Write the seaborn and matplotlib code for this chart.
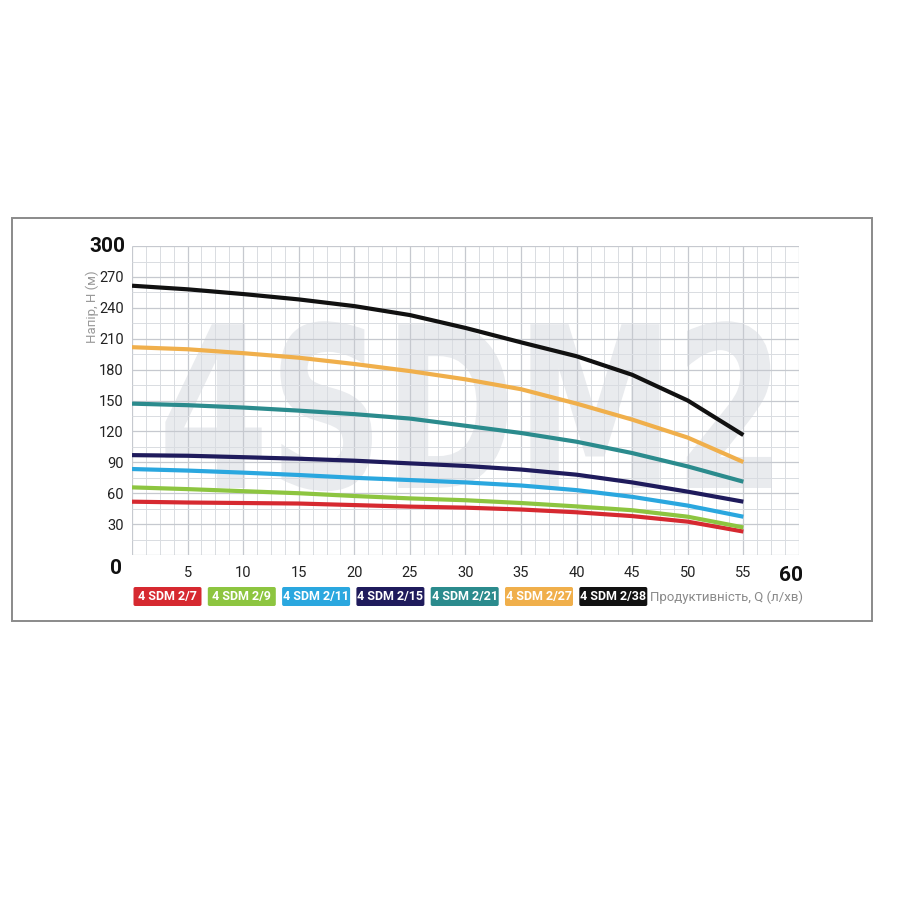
import numpy as np
import pandas as pd
import matplotlib
matplotlib.use("Agg")
import matplotlib.pyplot as plt
from matplotlib.patches import Rectangle, FancyBboxPatch, PathPatch
from matplotlib.textpath import TextPath
from matplotlib.font_manager import FontProperties
from matplotlib.transforms import Affine2D
import seaborn as sns

# ---- data ----
flow = [0, 5, 10, 15, 20, 25, 30, 35, 40, 45, 50, 55]
h_2_7 = [51.8, 51.0, 50.5, 50.0, 48.5, 47.0, 46.0, 44.2, 41.5, 37.8, 32.4, 22.8]
h_2_9 = [65.7, 64.0, 62.0, 60.0, 57.3, 55.0, 53.2, 50.5, 47.2, 43.5, 37.2, 26.8]
h_2_11 = [83.5, 82.0, 80.0, 77.7, 75.0, 72.8, 70.5, 67.5, 63.0, 56.5, 48.0, 37.2]
h_2_15 = [97.0, 96.4, 95.0, 93.5, 91.6, 89.0, 86.5, 83.0, 78.0, 70.5, 61.5, 51.8]
h_2_21 = [147.0, 145.5, 143.2, 140.2, 136.8, 132.5, 125.5, 118.5, 110.0, 99.0, 86.0, 71.2]
h_2_27 = [201.8, 199.8, 196.0, 191.6, 185.5, 178.6, 170.6, 161.0, 147.0, 131.5, 114.0, 90.3]
h_2_38 = [261.5, 258.0, 253.4, 248.2, 241.7, 233.0, 220.5, 206.5, 193.0, 175.0, 150.0, 116.5]

models = ["4 SDM 2/7", "4 SDM 2/9", "4 SDM 2/11", "4 SDM 2/15",
          "4 SDM 2/21", "4 SDM 2/27", "4 SDM 2/38"]
series = [h_2_7, h_2_9, h_2_11, h_2_15, h_2_21, h_2_27, h_2_38]
colors = ["#d62930", "#8dc540", "#2aa7df", "#1f1b5c", "#2b8b8d", "#f0af4b", "#111111"]

y_ticks = [30, 60, 90, 120, 150, 180, 210, 240, 270]
x_ticks = [5, 10, 15, 20, 25, 30, 35, 40, 45, 50, 55]
x_label = "Продуктивність, Q (л/хв)"
y_label = "Напір, H (м)"
watermark = "4SDM2"

df = pd.DataFrame({
    "Q": np.tile(flow, len(models)),
    "H": np.concatenate(series),
    "model": np.repeat(models, len(flow)),
})

# ---- figure ----
sns.set_theme(style="white")
plt.rcParams["font.family"] = ["Roboto", "DejaVu Sans"]
FAM = ["Roboto", "DejaVu Sans"]

fig = plt.figure(figsize=(9, 9), dpi=100)
fig.patch.set_facecolor("white")
ax = fig.add_axes([0.1467, 0.3833, 0.741, 0.3433])
ax.set_xlim(0, 60)
ax.set_ylim(0, 300)

# outer frame
fig.patches.append(Rectangle((12 / 900, 1 - 621 / 900), 860 / 900, 403 / 900,
                             transform=fig.transFigure, fill=False,
                             edgecolor="#8a8a8a", lw=1.4, zorder=0))

# watermark (condensed by scaling the glyph outline into a box)
tp = TextPath((0, 0), watermark, size=1,
              prop=FontProperties(family="DejaVu Sans", weight="bold"))
ext = tp.get_extents()
bx0, bx1, by0, by1 = 3.0, 57.5, 62, 227
tr = (Affine2D().translate(-ext.x0, -ext.y0)
      .scale((bx1 - bx0) / ext.width, (by1 - by0) / ext.height)
      .translate(bx0, by0))
ax.add_patch(PathPatch(tr.transform_path(tp), facecolor="#e9ebee",
                       edgecolor="none", zorder=0.2))

# grid
for xv in np.arange(0, 60.01, 1.25):
    major = abs(xv / 5 - round(xv / 5)) < 1e-6
    ax.axvline(xv, color="#c6c9cf" if major else "#d9dce1", lw=0.9 if major else 0.7, zorder=0.5)
for yv in np.arange(0, 300.01, 15):
    major = abs(yv / 30 - round(yv / 30)) < 1e-6
    ax.axhline(yv, color="#c6c9cf" if major else "#d9dce1", lw=0.9 if major else 0.7, zorder=0.5)

sns.lineplot(data=df, x="Q", y="H", hue="model", hue_order=models,
             palette=colors, lw=3.0, legend=False, ax=ax, sort=False, zorder=3)
for ln in ax.get_lines():
    ln.set_solid_capstyle("butt")
    ln.set_solid_joinstyle("round")

for s in ax.spines.values():
    s.set_visible(False)
ax.set_xlabel("")
ax.set_ylabel("")
ax.set_xticks(x_ticks)
ax.set_yticks(y_ticks)
ax.tick_params(length=0, labelsize=10.5, labelcolor="#222222", pad=6)
ax.tick_params(axis="x", pad=8)

# large end labels
big = dict(fontsize=15, fontweight="bold", color="#111111", family=FAM)
ax.text(-0.6, 300, "300", ha="right", va="center", **big)
ax.text(-0.9, -13, "0", ha="right", va="center", **big)
ax.text(59.3, -20, "60", ha="center", va="center", **big)

# axis titles
fig.text(92 / 900, 1 - 307 / 900, y_label, rotation=90, ha="center", va="center",
         fontsize=9.5, color="#9a9a9a", family=FAM)
fig.text(803 / 900, 1 - 597 / 900, x_label, ha="right", va="center",
         fontsize=9.5, color="#8a8a8a", family=FAM)

# legend boxes
x0 = 133.5
for i, (m, c) in enumerate(zip(models, colors)):
    left = x0 + i * 74.3
    fig.patches.append(FancyBboxPatch((left / 900, 1 - 606 / 900), 68 / 900, 19 / 900,
                                      boxstyle="round,pad=0,rounding_size=0.002",
                                      transform=fig.transFigure, facecolor=c,
                                      edgecolor="none", zorder=2))
    fig.text((left + 34) / 900, 1 - 596.5 / 900, m, ha="center", va="center",
             fontsize=9, color="white", fontweight="bold", zorder=3, family=FAM)

fig.savefig("out.png", dpi=100, facecolor="white")
